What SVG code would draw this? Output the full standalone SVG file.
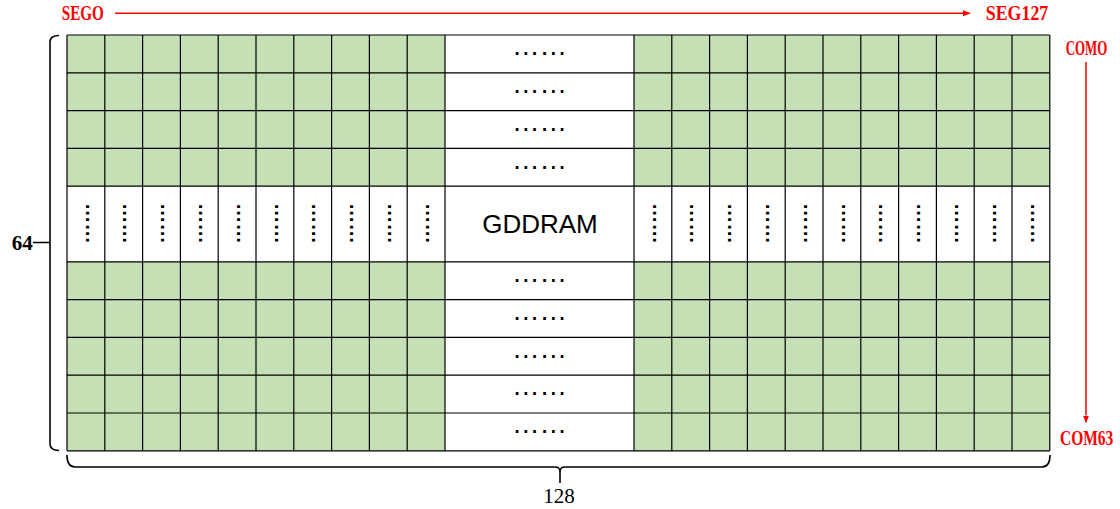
<svg xmlns="http://www.w3.org/2000/svg" width="1120" height="509" viewBox="0 0 1120 509">
<style>
.green{fill:#C5E0B4;stroke:none}
.grid{fill:none;stroke:#000;stroke-width:1.2}
.hd{font-family:"Liberation Sans",Arial,sans-serif;font-size:27.6px;text-anchor:middle;fill:#000}
.vd{font-family:"Liberation Sans",Arial,sans-serif;font-size:20.4px;font-weight:bold;text-anchor:middle;fill:#000}
.red{font-family:"Liberation Serif","Times New Roman",serif;font-size:20px;font-weight:bold;fill:#FF0000}
.num{font-family:"Liberation Serif","Times New Roman",serif;font-size:21px;fill:#000}
.brk{fill:none;stroke:#000;stroke-width:1.6}
.arr{fill:none;stroke:#FF0000;stroke-width:1.5}
</style>
<defs>
<marker id="ah" markerUnits="userSpaceOnUse" markerWidth="9" markerHeight="7" refX="0" refY="3" orient="auto">
<path d="M0,0 L8,3 L0,6 z" fill="#FF0000"/>
</marker>
</defs>
<rect width="1120" height="509" fill="#fff"/>
<g id="grid">
<rect class="green" x="67" y="35" width="378" height="151.2"/>
<rect class="green" x="67" y="261.8" width="378" height="189"/>
<rect class="green" x="634" y="35" width="415.8" height="151.2"/>
<rect class="green" x="634" y="261.8" width="415.8" height="189"/>
<path class="grid" d="M67 35H1049.8M67 72.8H1049.8M67 110.6H1049.8M67 148.4H1049.8M67 186.2H1049.8M67 261.8H1049.8M67 299.6H1049.8M67 337.4H1049.8M67 375.2H1049.8M67 413H1049.8M67 450.8H1049.8
M67 35V450.8M104.8 35V450.8M142.6 35V450.8M180.4 35V450.8M218.2 35V450.8M256 35V450.8M293.8 35V450.8M331.6 35V450.8M369.4 35V450.8M407.2 35V450.8M445 35V450.8
M634 35V450.8M671.8 35V450.8M709.6 35V450.8M747.4 35V450.8M785.2 35V450.8M823 35V450.8M860.8 35V450.8M898.6 35V450.8M936.4 35V450.8M974.2 35V450.8M1012 35V450.8M1049.8 35V450.8"/>
</g>
<g id="row-dots">
<text class="hd" x="539.5" y="55.1">……</text>
<text class="hd" x="539.5" y="92.9">……</text>
<text class="hd" x="539.5" y="130.7">……</text>
<text class="hd" x="539.5" y="168.5">……</text>
<text class="hd" x="539.5" y="281.9">……</text>
<text class="hd" x="539.5" y="319.7">……</text>
<text class="hd" x="539.5" y="357.5">……</text>
<text class="hd" x="539.5" y="395.3">……</text>
<text class="hd" x="539.5" y="433.1">……</text>
</g>
<g id="column-dots">
<text class="vd" transform="translate(85.6 223.5) rotate(90)">……</text>
<text class="vd" transform="translate(123.4 223.5) rotate(90)">……</text>
<text class="vd" transform="translate(161.2 223.5) rotate(90)">……</text>
<text class="vd" transform="translate(199 223.5) rotate(90)">……</text>
<text class="vd" transform="translate(236.8 223.5) rotate(90)">……</text>
<text class="vd" transform="translate(274.6 223.5) rotate(90)">……</text>
<text class="vd" transform="translate(312.4 223.5) rotate(90)">……</text>
<text class="vd" transform="translate(350.2 223.5) rotate(90)">……</text>
<text class="vd" transform="translate(388 223.5) rotate(90)">……</text>
<text class="vd" transform="translate(425.8 223.5) rotate(90)">……</text>
<text class="vd" transform="translate(652.6 223.5) rotate(90)">……</text>
<text class="vd" transform="translate(690.4 223.5) rotate(90)">……</text>
<text class="vd" transform="translate(728.2 223.5) rotate(90)">……</text>
<text class="vd" transform="translate(766 223.5) rotate(90)">……</text>
<text class="vd" transform="translate(803.8 223.5) rotate(90)">……</text>
<text class="vd" transform="translate(841.6 223.5) rotate(90)">……</text>
<text class="vd" transform="translate(879.4 223.5) rotate(90)">……</text>
<text class="vd" transform="translate(917.2 223.5) rotate(90)">……</text>
<text class="vd" transform="translate(955 223.5) rotate(90)">……</text>
<text class="vd" transform="translate(992.8 223.5) rotate(90)">……</text>
<text class="vd" transform="translate(1030.6 223.5) rotate(90)">……</text>
</g>
<g id="gddram">
<text x="540" y="233" font-family="'Liberation Sans',Arial,sans-serif" font-size="26" text-anchor="middle" fill="#000">GDDRAM</text>
</g>
<g id="seg-labels">
<text class="red" transform="translate(61.7 20) scale(0.76 1)">SEGO</text>
<text class="red" transform="translate(985.7 20) scale(0.894 1)">SEG127</text>
</g>
<g id="com-labels">
<text class="red" transform="translate(1065.7 55) scale(0.646 1)">COMO</text>
<text class="red" transform="translate(1060 445) scale(0.774 1)">COM63</text>
</g>
<g id="size-labels">
<text class="num" x="11.7" y="250" font-weight="bold">64</text>
<text class="num" x="543.3" y="503">128</text>
</g>
<g id="connectors">
<line class="arr" x1="115" y1="13.3" x2="963" y2="13.3" marker-end="url(#ah)"/>
<line class="arr" x1="1086" y1="62" x2="1086" y2="415.5" marker-end="url(#ah)"/>
<path class="brk" d="M59 35.5Q50 35.5 50 42V444Q50 450.5 59 450.5M50 242.5H33"/>
<path class="brk" d="M67 455Q67 467 75 467H555Q560 467 560 472V483M560 472Q560 467 565 467H1042Q1050 467 1050 455"/>
</g>
</svg>
